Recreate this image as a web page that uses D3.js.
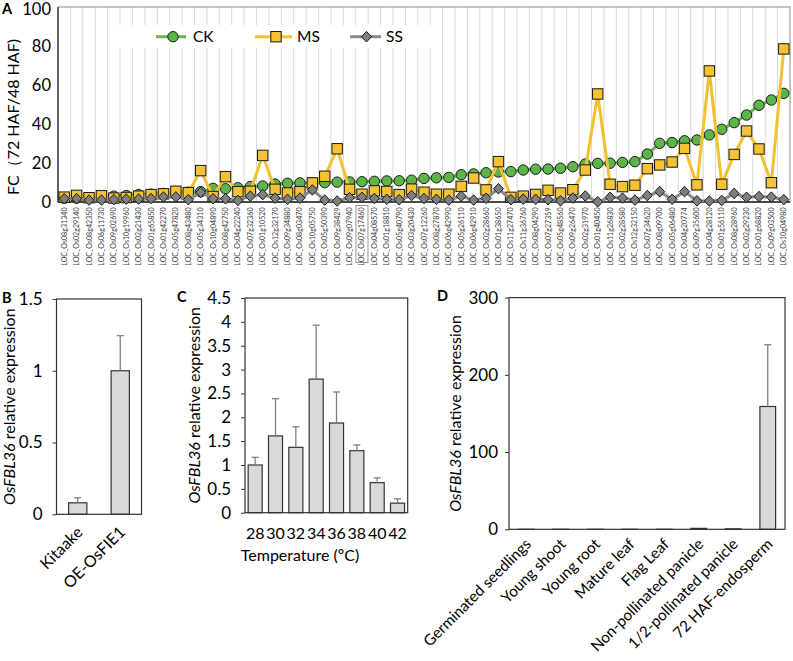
<!DOCTYPE html>
<html><head><meta charset="utf-8">
<script src="https://cdn.jsdelivr.net/npm/d3@7"></script>
<style>body{margin:0;background:#fff} text{font-family:Lato,'Open Sans',sans-serif;fill:#000}</style>
</head><body><svg id="c" width="793" height="661"></svg>
<script>
// ---------- DATA ----------
const genes = ["LOC_Os08g31340","LOC_Os02g29140","LOC_Os08g42350","LOC_Os06g11730","LOC_Os09g02690","LOC_Os10g19960","LOC_Os02g21430","LOC_Os01g65850","LOC_Os01g42270","LOC_Os05g47820","LOC_Os08g43480","LOC_Os05g34310","LOC_Os10g04890","LOC_Os08g42750","LOC_Os04g22240","LOC_Os07g32360","LOC_Os01g10520","LOC_Os12g32170","LOC_Os09g34880","LOC_Os08g03470","LOC_Os10g05750","LOC_Os05g50390","LOC_Os09g38429","LOC_Os09g07940","LOC_Os07g17460","LOC_Os04g08570","LOC_Os01g18810","LOC_Os05g40790","LOC_Os03g20430","LOC_Os07g12260","LOC_Os08g27870","LOC_Os06g42990","LOC_Os05g26110","LOC_Os06g42910","LOC_Os02g28660","LOC_Os01g38650","LOC_Os11g27470","LOC_Os11g36760","LOC_Os08g04290","LOC_Os07g27359","LOC_Os05g48560","LOC_Os09g26470","LOC_Os02g31970","LOC_Os01g40450","LOC_Os11g26830","LOC_Os02g28580","LOC_Os12g32150","LOC_Os07g34620","LOC_Os08g09700","LOC_Os05g06480","LOC_Os04g20774","LOC_Os09g35600","LOC_Os04g28120","LOC_Os01g56110","LOC_Os08g28960","LOC_Os02g29230","LOC_Os01g68820","LOC_Os09g03500","LOC_Os10g04980"];
const ck = [1.9,2.0,2.2,2.5,3.0,3.3,3.8,4.0,4.4,4.7,5.0,5.3,7.0,6.8,7.3,7.9,8.2,9.2,9.6,9.8,9.9,9.9,10.2,10.3,10.4,10.6,10.8,10.9,11.2,12.1,12.4,12.6,14.0,14.4,15.0,15.4,15.6,16.4,16.8,16.9,17.3,18.1,19.5,19.8,19.9,20.3,20.7,24.6,30.1,30.5,31.4,31.8,34.4,37.3,40.7,44.6,49.6,52.3,55.7];
const ms = [2.5,3.4,2.2,3.2,2.0,2.3,3.0,3.8,4.2,5.5,4.8,16.1,2.8,13.0,5.3,5.5,23.9,6.5,4.6,5.3,9.8,13.2,27.3,6.5,4.0,5.7,5.4,3.8,6.6,5.0,4.0,4.0,8.0,12.3,6.2,20.7,2.4,3.0,3.9,6.0,4.6,6.3,16.4,55.4,9.1,7.9,8.6,17.1,19.0,20.5,27.5,8.8,67.2,9.1,24.4,36.4,27.2,9.9,78.5];
const ss = [1.7,1.7,1.0,1.0,1.2,1.5,1.5,1.8,2.6,2.6,1.2,4.9,1.7,1.7,0.8,3.0,3.8,2.0,1.4,2.0,6.2,1.0,0.5,2.2,2.4,1.8,1.4,1.2,3.3,1.8,1.4,1.0,3.0,1.0,1.9,6.8,1.2,1.5,1.4,1.2,0.6,2.0,3.1,0.1,2.4,2.0,1.0,3.3,5.3,1.4,5.3,0.6,0.5,0.8,4.4,2.4,2.8,2.5,1.2];
const boxedGene = "LOC_Os07g17460";
const aTicks = [0,20,40,60,80,100];

const bCats = ["Kitaake","OE-OsFIE1"];
const bVals = [0.08,1.0];
const bErr  = [0.035,0.245];
const bTicks = [0,0.5,1,1.5];

const cCats = ["28","30","32","34","36","38","40","42"];
const cVals = [1.0,1.61,1.37,2.80,1.88,1.30,0.63,0.20];
const cErr  = [0.16,0.78,0.43,1.13,0.65,0.12,0.10,0.09];
const cTicks = [0,0.5,1,1.5,2,2.5,3,3.5,4,4.5];

const dCats = ["Germinated seedlings","Young shoot","Young root","Mature leaf","Flag Leaf","Non-pollinated panicle","1/2-pollinated panicle","72 HAF-endosperm"];
const dVals = [0.05,0.04,0.03,0.05,0.03,1.2,0.6,159];
const dErr  = [0,0,0,0,0,0,0,80];
const dTicks = [0,100,200,300];

// ---------- DRAW ----------
const svg = d3.select("#c");
svg.append("rect").attr("width",793).attr("height",661).attr("fill","#fff");

// ===== Panel A =====
const A = {l:58, r:790, t:7, b:202};
const xA = d3.scaleBand().domain(genes).range([A.l, A.r]);
const yA = d3.scaleLinear().domain([0,100]).range([A.b, A.t]);
const bw = xA.bandwidth();
const cx = g => xA(g) + bw/2;
const gA = svg.append("g");
gA.selectAll("line.grid").data(genes.slice(1)).join("line")
  .attr("x1",d=>xA(d)).attr("x2",d=>xA(d)).attr("y1",A.t).attr("y2",A.b)
  .attr("stroke","#d9d9d9").attr("stroke-width",1);
const leg = gA.append("g");
leg.append("rect").attr("x",117).attr("y",25).attr("width",315).attr("height",23).attr("fill","#fff");
gA.append("rect").attr("x",A.l).attr("y",A.t).attr("width",A.r-A.l).attr("height",A.b-A.t)
  .attr("fill","none").attr("stroke","#8c8c8c").attr("stroke-width",1);
gA.append("line").attr("x1",A.l).attr("x2",A.l).attr("y1",A.t).attr("y2",A.b).attr("stroke","#222").attr("stroke-width",1.2);
gA.append("line").attr("x1",A.l).attr("x2",A.r).attr("y1",A.b).attr("y2",A.b).attr("stroke","#222").attr("stroke-width",1.3);

const series = [
  {name:"CK", vals:ck, line:"#6fb24f", fill:"#5db54a", shape:"circle"},
  {name:"MS", vals:ms, line:"#f3c130", fill:"#f4c232", shape:"square"},
  {name:"SS", vals:ss, line:"#8a8a8a", fill:"#7f7f7f", shape:"diamond"}
];
function marker(sel, shape, x, y, fill){
  if(shape==="circle") sel.append("circle").attr("cx",x).attr("cy",y).attr("r",5.2).attr("fill",fill).attr("stroke","#1a1a1a").attr("stroke-width",1);
  else if(shape==="square") sel.append("rect").attr("x",x-5.2).attr("y",y-5.2).attr("width",10.4).attr("height",10.4).attr("fill",fill).attr("stroke","#1a1a1a").attr("stroke-width",1);
  else sel.append("path").attr("d",`M${x},${y-5.3}L${x+5},${y}L${x},${y+5.3}L${x-5},${y}Z`).attr("fill",fill).attr("stroke","#1a1a1a").attr("stroke-width",1);
}
const line = d3.line().x((d,i)=>cx(genes[i])).y(d=>yA(d));
series.forEach(s=>{
  const g = gA.append("g");
  g.append("path").attr("d",line(s.vals)).attr("fill","none").attr("stroke",s.line).attr("stroke-width",3).attr("stroke-linejoin","round");
  s.vals.forEach((v,i)=>marker(g, s.shape, cx(genes[i]), yA(v), s.fill));
});
const legPos = [{lx1:156,lx2:186,mx:173,tx:193},{lx1:255,lx2:292,mx:276,tx:297},{lx1:350,lx2:381,mx:366.5,tx:386}];
series.forEach((s,i)=>{
  const p = legPos[i], ly = 36.7;
  leg.append("line").attr("x1",p.lx1).attr("x2",p.lx2).attr("y1",ly).attr("y2",ly).attr("stroke",s.line).attr("stroke-width",3);
  marker(leg, s.shape, p.mx, ly, s.fill);
  leg.append("text").attr("x",p.tx).attr("y",ly).attr("dy","0.36em").attr("font-size",15.5).text(s.name);
});
const axA = gA.append("g").attr("transform",`translate(${A.l},0)`)
  .call(d3.axisLeft(yA).tickValues(aTicks).tickSize(0).tickPadding(7));
axA.select(".domain").remove();
axA.selectAll("text").attr("font-size",16.5).attr("font-family","Lato,'Open Sans',sans-serif").attr("fill","#000")
  .attr("dy",(d)=>d===100?"0.45em":"0.32em");
const xl = gA.append("g");
genes.forEach(g=>{
  xl.append("text").attr("transform",`translate(${cx(g)},207.5) rotate(-90)`)
    .attr("text-anchor","end").attr("dy","0.35em")
    .attr("font-size",7.1).attr("font-family","'DejaVu Sans',Verdana,sans-serif").style("fill","#3a3a3a").text(g);
  if(g===boxedGene){
    xl.append("rect").attr("x",cx(g)-6).attr("y",205.5).attr("width",12).attr("height",57)
      .attr("fill","none").attr("stroke","#8c8c8c").attr("stroke-width",0.9);
  }
});
svg.append("text").attr("transform","translate(13,117) rotate(-90)").attr("text-anchor","middle").attr("dy","0.35em")
  .attr("font-size",16).text("FC（72 HAF/48 HAF)");
svg.append("text").attr("x",2).attr("y",14).attr("font-size",14.5).attr("font-weight","bold").text("A");

// ===== Bar panels =====
function barPanel(o){
  const g = svg.append("g");
  const x = d3.scaleBand().domain(o.cats).range([o.l,o.r]).paddingInner(o.pad).paddingOuter(o.pad/2);
  const y = d3.scaleLinear().domain([0,o.max]).range([o.b,o.t]);
  g.selectAll("rect.bar").data(o.vals).join("rect")
    .attr("x",(d,i)=>x(o.cats[i])).attr("width",x.bandwidth())
    .attr("y",d=>y(d)).attr("height",d=>o.b-y(d))
    .attr("fill","#d9d9d9").attr("stroke","#333").attr("stroke-width",1.2);
  o.vals.forEach((v,i)=>{
    if(!o.err[i]) return;
    const xc = x(o.cats[i]) + x.bandwidth()/2;
    g.append("line").attr("x1",xc).attr("x2",xc).attr("y1",y(v)).attr("y2",y(v+o.err[i])).attr("stroke","#7f7f7f").attr("stroke-width",1.3);
    g.append("line").attr("x1",xc-3.5).attr("x2",xc+3.5).attr("y1",y(v+o.err[i])).attr("y2",y(v+o.err[i])).attr("stroke","#7f7f7f").attr("stroke-width",1.3);
  });
  g.append("rect").attr("x",o.l).attr("y",o.t).attr("width",o.r-o.l).attr("height",o.b-o.t)
    .attr("fill","none").attr("stroke","#333").attr("stroke-width",1.2);
  const ax = g.append("g").attr("transform",`translate(${o.l},0)`)
    .call(d3.axisLeft(y).tickValues(o.ticks).tickSize(4).tickPadding(o.tp).tickFormat(d=>String(d)));
  ax.select(".domain").remove();
  ax.selectAll("line").attr("stroke","#333");
  ax.selectAll("text").attr("font-size",17).attr("font-family","Lato,'Open Sans',sans-serif").attr("fill","#000");
  const tt = g.append("text").attr("transform",`translate(${o.tx},${(o.t+o.b)/2}) rotate(-90)`)
    .attr("text-anchor","middle").attr("dy","0.35em").attr("font-size",16);
  tt.append("tspan").attr("font-style","italic").text("OsFBL36");
  tt.append("tspan").text(" relative expression");
  o.cats.forEach((c,i)=>{
    const xc = x(c) + x.bandwidth()/2;
    if(o.rot){
      g.append("text").attr("transform",`translate(${xc+2},${o.b+o.off}) rotate(-45)`)
        .attr("text-anchor","end").attr("dy","0.35em").attr("font-size",o.fs).text(c);
    } else {
      g.append("text").attr("x",xc).attr("y",o.b+26).attr("text-anchor","middle").attr("font-size",o.fs).text(c);
    }
  });
  g.append("text").attr("x",o.lx).attr("y",o.ly).attr("font-size",14.5).attr("font-weight","bold").text(o.label);
  return g;
}
barPanel({cats:bCats, vals:bVals, err:bErr, ticks:bTicks, max:1.5, l:56.5, r:141.5, t:299, b:514.3, pad:0.57, tp:10, tx:9, rot:true, fs:16, off:15, label:"B", lx:2, ly:303});
const gc = barPanel({cats:cCats, vals:cVals, err:cErr, ticks:cTicks, max:4.5, l:245, r:407.7, t:298, b:512.7, pad:0.31, tp:10, tx:194, rot:false, fs:16, label:"C", lx:177, ly:302});
gc.append("text").attr("x",300).attr("y",561).attr("text-anchor","middle").attr("font-size",16).text("Temperature (ºC)");
barPanel({cats:dCats, vals:dVals, err:dErr, ticks:dTicks, max:300, l:509, r:785, t:297.6, b:529.3, pad:0.545, tp:7, tx:455, rot:true, fs:15.3, off:12, label:"D", lx:437, ly:301});
</script></body></html>
